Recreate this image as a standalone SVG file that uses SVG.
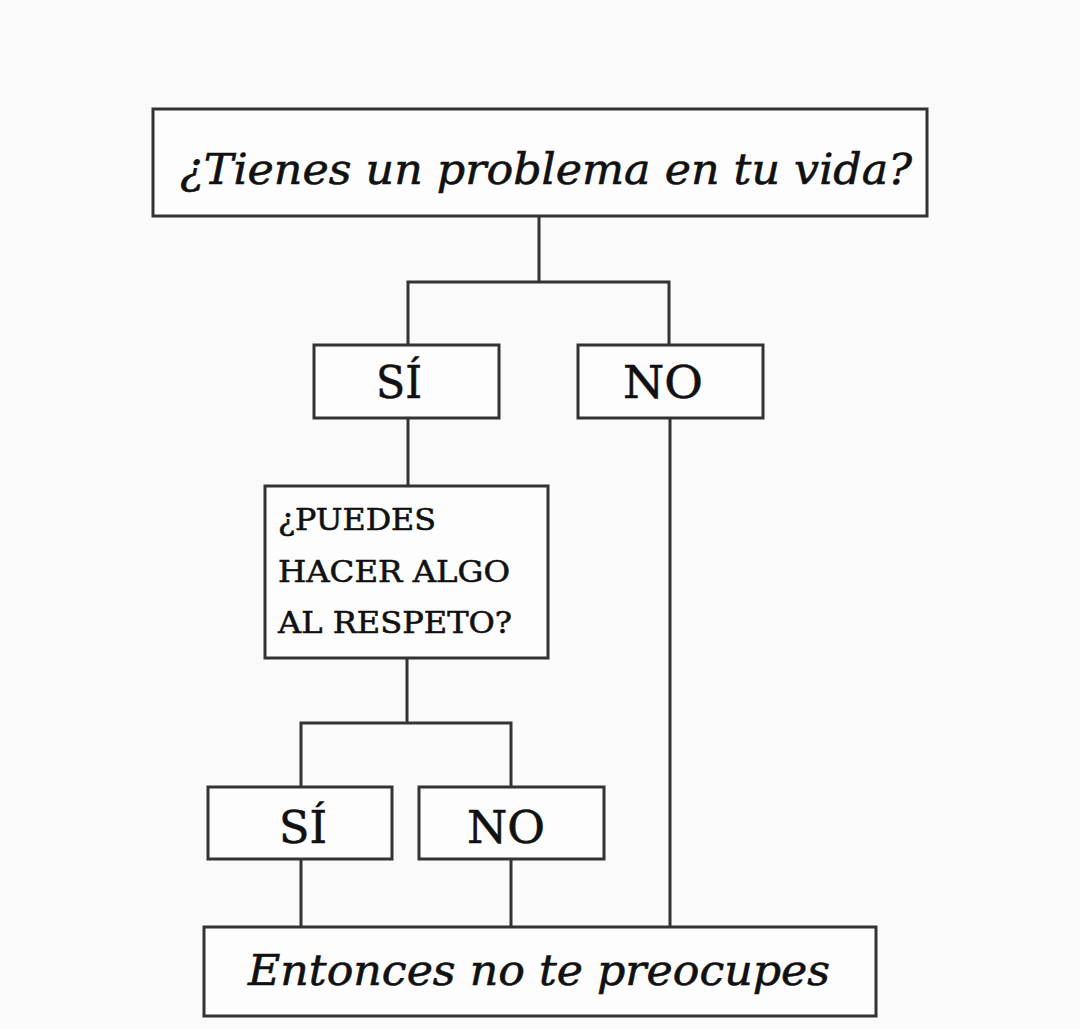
<svg xmlns="http://www.w3.org/2000/svg" width="1080" height="1029" viewBox="0 0 1080 1029">
<style>
.box{fill:#fdfdfd;stroke:#333;stroke-width:3}
.ln{fill:none;stroke:#333;stroke-width:3}
.t{font-family:"DejaVu Serif","Liberation Serif",serif;fill:#111;stroke:#111;stroke-width:0.6}
.i{font-style:italic}
</style>
<rect width="1080" height="1029" fill="#fafafa"/>
<g id="connectors">
<path class="ln" d="M539 216V282M408 345V282H669V345"/>
<path class="ln" d="M408 418V486"/>
<path class="ln" d="M407 658V723M301 786V723H511V786"/>
<path class="ln" d="M301 859V927M511 859V927M670 418V927"/>
</g>
<g id="n1"><rect class="box" x="153" y="109" width="774" height="107"/>
<text class="t i" x="180" y="184" font-size="43" textLength="732" lengthAdjust="spacingAndGlyphs">¿Tienes un problema en tu vida?</text></g>
<g id="n2"><rect class="box" x="314" y="345" width="185" height="73"/>
<text class="t" x="376" y="398" font-size="44" textLength="46" lengthAdjust="spacingAndGlyphs">SÍ</text></g>
<g id="n3"><rect class="box" x="578" y="345" width="185" height="73"/>
<text class="t" x="623" y="398" font-size="44" textLength="80" lengthAdjust="spacingAndGlyphs">NO</text></g>
<g id="n4"><rect class="box" x="265" y="486" width="283" height="172"/>
<text class="t" font-size="30"><tspan x="278" y="530" textLength="158" lengthAdjust="spacingAndGlyphs">¿PUEDES</tspan><tspan x="278" y="582" textLength="232" lengthAdjust="spacingAndGlyphs">HACER ALGO</tspan><tspan x="278" y="633" textLength="234" lengthAdjust="spacingAndGlyphs">AL RESPETO?</tspan></text></g>
<g id="n5"><rect class="box" x="208" y="787" width="184" height="72"/>
<text class="t" x="279" y="843" font-size="44" textLength="48" lengthAdjust="spacingAndGlyphs">SÍ</text></g>
<g id="n6"><rect class="box" x="419" y="787" width="185" height="72"/>
<text class="t" x="467" y="843" font-size="44" textLength="78" lengthAdjust="spacingAndGlyphs">NO</text></g>
<g id="n7"><rect class="box" x="204" y="927" width="672" height="89"/>
<text class="t i" x="248" y="985" font-size="43" textLength="582" lengthAdjust="spacingAndGlyphs">Entonces no te preocupes</text></g>
</svg>
